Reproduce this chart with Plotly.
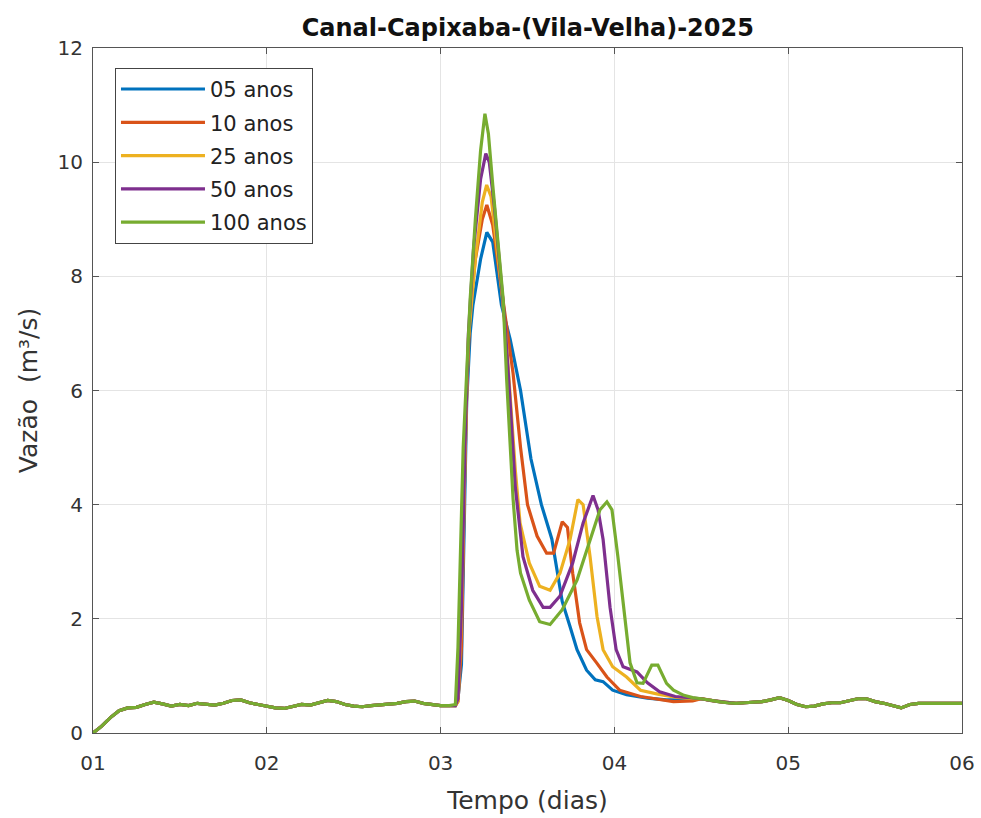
import plotly.graph_objects as go

# ---------------- data (time in days, flow in m3/s) ----------------
series_names = ["05 anos", "10 anos", "25 anos", "50 anos", "100 anos"]
series_colors = ["#0072BD", "#D95319", "#EDB120", "#7E2F8E", "#77AC30"]

# shared baseline before the event
base_pre_t = [1.00, 1.05, 1.10, 1.15, 1.20, 1.25, 1.30, 1.35, 1.40, 1.45, 1.50, 1.55,
              1.60, 1.65, 1.70, 1.75, 1.80, 1.85, 1.90, 1.95, 2.00, 2.05, 2.10, 2.15,
              2.20, 2.25, 2.30, 2.35, 2.40, 2.45, 2.50, 2.55, 2.60, 2.65, 2.70, 2.75,
              2.80, 2.85, 2.90, 2.95, 3.00, 3.05]
base_pre_q = [0.00, 0.12, 0.27, 0.39, 0.44, 0.45, 0.50, 0.54, 0.51, 0.47, 0.50, 0.48,
              0.52, 0.50, 0.49, 0.52, 0.57, 0.58, 0.53, 0.50, 0.47, 0.44, 0.43, 0.47,
              0.50, 0.49, 0.53, 0.57, 0.55, 0.50, 0.47, 0.46, 0.48, 0.49, 0.50, 0.52,
              0.55, 0.56, 0.52, 0.50, 0.48, 0.48]

# shared recession tail after the event
base_post_t = [4.50, 4.55, 4.60, 4.65, 4.70, 4.75, 4.80, 4.85, 4.90, 4.95, 5.00, 5.05,
               5.10, 5.15, 5.20, 5.25, 5.30, 5.35, 5.40, 5.45, 5.50, 5.55, 5.60, 5.65,
               5.70, 5.75, 5.80, 5.85, 5.90, 5.95, 6.00]
base_post_q = [0.60, 0.57, 0.55, 0.53, 0.52, 0.53, 0.54, 0.55, 0.58, 0.62, 0.57, 0.50,
               0.46, 0.47, 0.51, 0.53, 0.53, 0.56, 0.60, 0.60, 0.55, 0.52, 0.48, 0.44,
               0.50, 0.52, 0.52, 0.52, 0.53, 0.52, 0.52]

# event hydrographs
ev05_t = [3.085, 3.10, 3.12, 3.135, 3.15, 3.17, 3.186, 3.23, 3.266, 3.30, 3.35, 3.40,
          3.46, 3.52, 3.58, 3.64, 3.70, 3.745, 3.785, 3.84, 3.89, 3.935, 3.99, 4.07,
          4.19, 4.30, 4.45]
ev05_q = [0.48, 0.60, 1.20, 3.50, 5.80, 7.00, 7.50, 8.30, 8.77, 8.60, 7.50, 6.90,
          6.00, 4.80, 4.00, 3.40, 2.30, 1.86, 1.46, 1.10, 0.93, 0.90, 0.75, 0.67,
          0.61, 0.58, 0.58]

ev10_t = [3.085, 3.10, 3.12, 3.135, 3.15, 3.17, 3.20, 3.24, 3.266, 3.30, 3.34, 3.38,
          3.417, 3.46, 3.50, 3.555, 3.61, 3.65, 3.70, 3.73, 3.76, 3.80, 3.84, 3.90,
          3.957, 4.03, 4.15, 4.34, 4.45]
ev10_q = [0.48, 0.55, 1.50, 4.00, 6.00, 7.40, 8.30, 9.00, 9.25, 8.90, 8.00, 7.20,
          6.30, 5.00, 4.00, 3.45, 3.15, 3.15, 3.70, 3.60, 2.80, 1.93, 1.46, 1.22,
          0.98, 0.75, 0.64, 0.55, 0.56]

ev25_t = [3.085, 3.10, 3.12, 3.14, 3.16, 3.20, 3.24, 3.265, 3.29, 3.32, 3.35, 3.38,
          3.41, 3.43, 3.457, 3.51, 3.57, 3.63, 3.687, 3.745, 3.79, 3.82, 3.86, 3.90,
          3.935, 3.99, 4.07, 4.15, 4.25, 4.35, 4.45]
ev25_q = [0.48, 0.55, 2.00, 4.80, 6.90, 8.30, 9.30, 9.60, 9.40, 8.60, 7.80, 6.80,
          5.50, 4.60, 3.68, 2.98, 2.57, 2.50, 2.80, 3.39, 4.09, 4.00, 3.09, 2.04,
          1.46, 1.16, 0.98, 0.75, 0.68, 0.63, 0.60]

ev50_t = [3.085, 3.10, 3.12, 3.14, 3.16, 3.19, 3.23, 3.26, 3.28, 3.31, 3.34, 3.37,
          3.40, 3.43, 3.474, 3.53, 3.59, 3.63, 3.687, 3.76, 3.82, 3.877, 3.906, 3.935,
          3.975, 4.01, 4.05, 4.13, 4.19, 4.26, 4.35, 4.45]
ev50_q = [0.48, 0.60, 2.20, 5.00, 7.00, 8.50, 9.70, 10.15, 10.00, 9.20, 8.20, 7.20,
          5.80, 4.30, 3.09, 2.50, 2.20, 2.20, 2.40, 2.98, 3.68, 4.16, 3.91, 3.39,
          2.20, 1.46, 1.16, 1.07, 0.88, 0.72, 0.64, 0.61]

ev100_t = [3.085, 3.10, 3.115, 3.13, 3.15, 3.17, 3.20, 3.23, 3.255, 3.275, 3.30, 3.33,
           3.36, 3.38, 3.40, 3.417, 3.44, 3.46, 3.51, 3.57, 3.63, 3.70, 3.785, 3.86,
           3.917, 3.957, 3.986, 4.02, 4.06, 4.09, 4.13, 4.165, 4.215, 4.25, 4.30, 4.34,
           4.40, 4.45]
ev100_q = [0.50, 1.50, 3.50, 5.00, 6.30, 7.60, 9.00, 10.20, 10.85, 10.50, 9.60, 8.60,
           7.60, 6.20, 5.00, 4.10, 3.20, 2.80, 2.33, 1.95, 1.90, 2.16, 2.68, 3.39,
           3.91, 4.05, 3.91, 3.09, 2.04, 1.23, 0.88, 0.87, 1.19, 1.19, 0.87, 0.75,
           0.66, 0.62]

event_t = [ev05_t, ev10_t, ev25_t, ev50_t, ev100_t]
event_q = [ev05_q, ev10_q, ev25_q, ev50_q, ev100_q]

x_tick_vals = [1, 2, 3, 4, 5, 6]
x_tick_text = ["01", "02", "03", "04", "05", "06"]
y_tick_vals = [0, 2, 4, 6, 8, 10, 12]

title_text = "Canal-Capixaba-(Vila-Velha)-2025"
x_label = "Tempo (dias)"
y_label = "Vazão  (m³/s)"

# ---------------- figure ----------------
FONT = "DejaVu Sans, Liberation Sans, sans-serif"
fig = go.Figure()
for i, name in enumerate(series_names):
    fig.add_trace(go.Scatter(
        x=base_pre_t + event_t[i] + base_post_t,
        y=base_pre_q + event_q[i] + base_post_q,
        mode="lines",
        name=name,
        legendgroup=name,
        line=dict(color=series_colors[i], width=3.2),
    ))

axis_common = dict(
    showline=True, linecolor="#555555", linewidth=1, mirror="allticks",
    ticks="inside", ticklen=6, tickcolor="#555555",
    showgrid=True, gridcolor="#e4e4e4", gridwidth=1,
    zeroline=False, automargin=False,
    tickfont=dict(family=FONT, size=20, color="#333333"),
)

fig.update_layout(
    width=981, height=818,
    margin=dict(l=93, r=19, t=48, b=85),
    paper_bgcolor="white", plot_bgcolor="white",
    title=dict(text="<b>" + title_text + "</b>", x=0.538, xanchor="center",
               y=0.966, yanchor="middle",
               font=dict(family=FONT, size=24, color="#111111")),
    xaxis=dict(range=[1, 6], tickvals=x_tick_vals, ticktext=x_tick_text,
               ticklabelstandoff=12,
               title=dict(text=x_label, standoff=17,
                          font=dict(family=FONT, size=25, color="#333333")),
               **axis_common),
    yaxis=dict(range=[0, 12], tickvals=y_tick_vals,
               ticklabelstandoff=5,
               title=dict(text=y_label, standoff=12,
                          font=dict(family=FONT, size=25, color="#333333")),
               **axis_common),
    legend=dict(x=0.0253, y=0.971, xanchor="left", yanchor="top",
                bgcolor="white", bordercolor="#444444", borderwidth=1,
                font=dict(family=FONT, size=21, color="#222222"),
                itemwidth=84, tracegroupgap=3),
    showlegend=True,
)

fig.write_html("out.html", config={"displayModeBar": False},
               post_script="document.body.style.margin='0';")
